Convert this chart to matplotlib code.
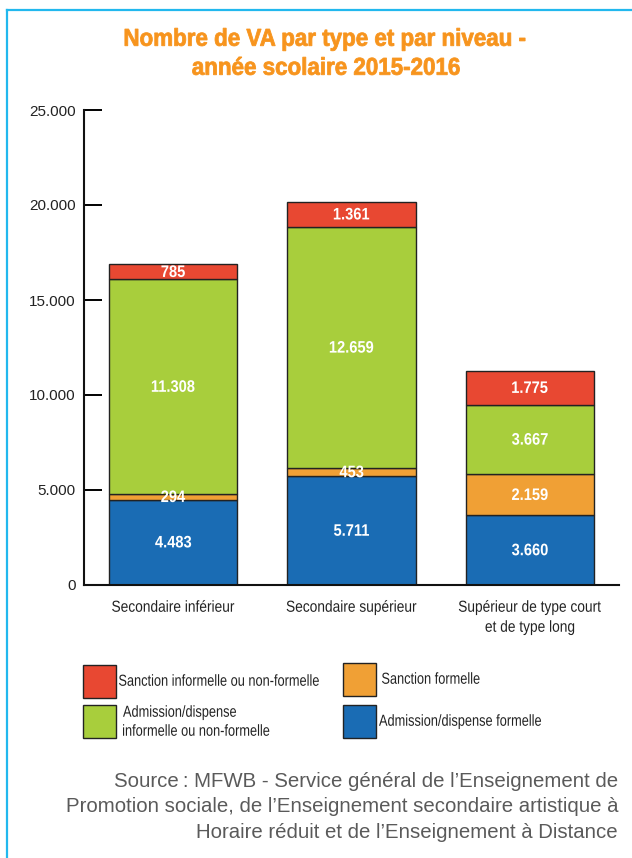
"""Stacked bars: VA by type and level, school year 2015-2016."""

import matplotlib

matplotlib.use("Agg")

import matplotlib.pyplot as plt
from matplotlib.font_manager import FontProperties
from matplotlib.lines import Line2D
from matplotlib.patches import PathPatch, Rectangle
from matplotlib.textpath import TextPath
from matplotlib.transforms import Affine2D, IdentityTransform
import numpy as np


CATEGORIES = [
    "Secondaire inférieur",
    "Secondaire supérieur",
    "Supérieur de type court\net de type long",
]
SERIES = [
    "Admission/dispense formelle",
    "Sanction formelle",
    "Admission/dispense\ninformelle ou non-formelle",
    "Sanction informelle ou non-formelle",
]
ADMISSION_FORMELLE = [4483, 5711, 3660]
SANCTION_FORMELLE = [294, 453, 2159]
ADMISSION_INFORMELLE = [11308, 12659, 3667]
SANCTION_INFORMELLE = [785, 1361, 1775]
Y_TICKS = [0, 5000, 10000, 15000, 20000, 25000]

COLORS = ["#1a6cb4", "#f0a035", "#a8ce3c", "#e84832"]
ORANGE = "#f7941d"
FRAME = "#22b8ee"
INK = "#222222"
SANS = ["Liberation Sans", "DejaVu Sans"]

W, H = 632, 858


def fmt(v):
    return f"{v:,}".replace(",", ".")


def narrow_text(fig, x, y, s, size, color, sx=0.85, ha="center",
                weight="normal", line_px=None, stroke=0.0):
    """Draw text squeezed horizontally by sx, as outlines in pixel space.

    x, y are display pixels (origin bottom-left); y is the middle of the
    cap height of the (middle of the) text block.
    """
    fp = FontProperties(family=SANS, weight=weight)
    k = fig.dpi / 72.0
    cap = 0.72 * size * k
    if line_px is None:
        line_px = 1.2 * size * k
    lines = s.split("\n")
    n = len(lines)
    for i, line in enumerate(lines):
        tp = TextPath((0, 0), line, size=size, prop=fp)
        ext = tp.get_extents()
        if ha == "center":
            x0 = (ext.x0 + ext.x1) / 2
        elif ha == "left":
            x0 = ext.x0
        else:
            x0 = ext.x1
        base = y - ((i - (n - 1) / 2) * line_px) - cap / 2
        tr = Affine2D().translate(-x0, 0).scale(sx * k, k).translate(x, base)
        fig.add_artist(PathPatch(tr.transform_path(tp), facecolor=color,
                                 edgecolor=color if stroke else "none",
                                 lw=stroke, transform=IdentityTransform()))


fig = plt.figure(figsize=(W / 100, H / 100), dpi=100, facecolor="white")

# light blue frame along the top and left edges
fig.add_artist(Line2D([7 / W, 1.0], [1 - 10 / H] * 2, color=FRAME, lw=1.6,
                      transform=fig.transFigure))
fig.add_artist(Line2D([7 / W] * 2, [0.0, 1 - 10 / H], color=FRAME, lw=1.6,
                      transform=fig.transFigure))

narrow_text(fig, 325, H - 37, "Nombre de VA par type et par niveau -",
            17.5, ORANGE, sx=0.92, weight="bold", stroke=0.6)
narrow_text(fig, 326, H - 66, "année scolaire 2015-2016",
            17.5, ORANGE, sx=0.92, weight="bold", stroke=0.6)

ax = fig.add_axes([84 / W, 1 - 585 / H, (619 - 84) / W, (585 - 110) / H])

x = np.arange(len(CATEGORIES))
ax.set_xlim(-0.5, 2.5)
ax.set_ylim(0, 25000)

stack = [ADMISSION_FORMELLE, SANCTION_FORMELLE, ADMISSION_INFORMELLE, SANCTION_INFORMELLE]
bottom = np.zeros(len(CATEGORIES))
for vals, color in zip(stack, COLORS):
    vals = np.asarray(vals, dtype=float)
    ax.bar(x, vals, bottom=bottom, width=0.72, color=color,
           edgecolor=INK, linewidth=1.0, zorder=2)
    for xi, b, v in zip(x, bottom, vals):
        px, py = ax.transData.transform((xi, b + v / 2))
        narrow_text(fig, px, py + 1, fmt(int(v)), 12, "white", sx=0.88,
                    weight="bold")
    bottom += vals

ax.set_yticks(Y_TICKS)
ax.set_yticklabels([fmt(t) for t in Y_TICKS], family=SANS, fontsize=11,
                   color=INK)
ax.set_xticks(x)
ax.set_xticklabels([])
ax.tick_params(axis="y", direction="in", length=13, width=1.4, pad=6)
ax.tick_params(axis="x", length=0)
for side in ("top", "right"):
    ax.spines[side].set_visible(False)
for side in ("left", "bottom"):
    ax.spines[side].set_linewidth(1.5)
    ax.spines[side].set_color("#111111")

# category names under the bars
for xi, name in zip(x, CATEGORIES):
    px, _ = ax.transData.transform((xi, 0))
    n = name.count("\n")
    narrow_text(fig, px, H - 606 - n * 10, name, 11.5, INK, sx=0.86,
                line_px=20)

# legend drawn by hand as two columns of boxes
legend_items = [
    (COLORS[3], SERIES[3], 83, 665, 119, 680),
    (COLORS[1], SERIES[1], 343, 663, 382, 678),
    (COLORS[2], SERIES[2], 83, 705, 123, 720.5),
    (COLORS[0], SERIES[0], 343, 705, 379, 720),
]
for color, label, bx, by, tx, ty in legend_items:
    fig.add_artist(Rectangle((bx / W, 1 - (by + 33) / H), 33 / W, 33 / H,
                             facecolor=color, edgecolor=INK, linewidth=1.0,
                             transform=fig.transFigure))
    narrow_text(fig, tx, H - ty, label, 11.5, INK, sx=0.80, ha="left",
                line_px=19)

source = ("Source\u202f: MFWB - Service général de l\u2019Enseignement de\n"
          "Promotion sociale, de l\u2019Enseignement secondaire artistique à\n"
          "Horaire réduit et de l\u2019Enseignement à Distance")
fig.text(618 / W, 1 - 807 / H, source, ha="right", va="center",
         fontsize=14.7, family=SANS, color="#5a5a5a", linespacing=1.44)

fig.savefig("out.png", dpi=100, facecolor="white")
